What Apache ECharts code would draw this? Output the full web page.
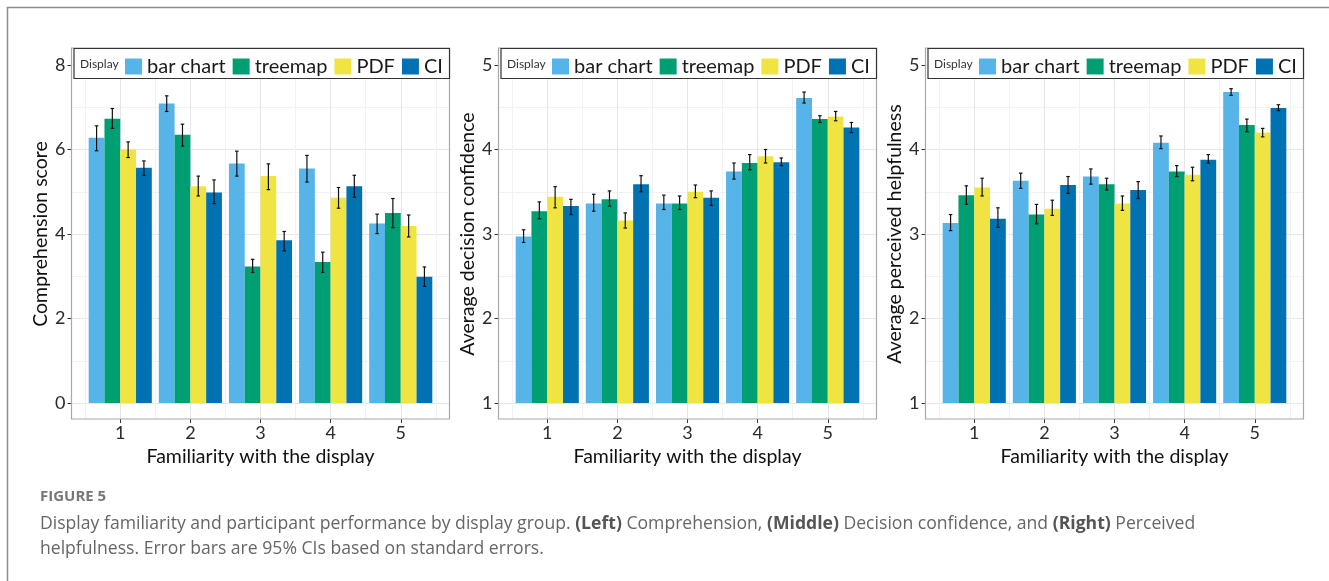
<!DOCTYPE html>
<html>
<head>
<meta charset="utf-8">
<script src="https://cdn.jsdelivr.net/npm/echarts@6/dist/echarts.min.js"></script>
<style>
  html, body { margin: 0; padding: 0; background: #fff; }
  #chart { width: 1329px; height: 581px; }
</style>
</head>
<body>
<div id="chart"></div>
<script>
// ---------------- data ----------------
const categories = [1, 2, 3, 4, 5];
const displays = ['bar chart', 'treemap', 'PDF', 'CI'];
const xTitle = 'Familiarity with the display';

const compTicks = [0, 2, 4, 6, 8];
const likertTicks = [1, 2, 3, 4, 5];

// Comprehension score (means, 95% CI [low, high])
const compBarChart = [6.28, 7.09, 5.67, 5.55, 4.25];
const compBarChartCI = [[5.97, 6.56], [6.90, 7.27], [5.37, 5.96], [5.23, 5.86], [4.01, 4.47]];
const compTreemap = [6.73, 6.35, 3.23, 3.34, 4.50];
const compTreemapCI = [[6.50, 6.97], [6.08, 6.60], [3.09, 3.40], [3.09, 3.57], [4.15, 4.84]];
const compPDF = [6.00, 5.13, 5.37, 4.86, 4.19];
const compPDFCI = [[5.81, 6.18], [4.90, 5.37], [5.05, 5.66], [4.61, 5.10], [3.93, 4.45]];
const compCI = [5.57, 4.98, 3.85, 5.13, 2.99];
const compCICI = [[5.39, 5.73], [4.72, 5.28], [3.60, 4.06], [4.87, 5.39], [2.76, 3.22]];

// Average decision confidence
const confBarChart = [2.97, 3.36, 3.36, 3.74, 4.61];
const confBarChartCI = [[2.90, 3.05], [3.27, 3.47], [3.29, 3.46], [3.65, 3.84], [4.55, 4.68]];
const confTreemap = [3.27, 3.41, 3.36, 3.84, 4.36];
const confTreemapCI = [[3.18, 3.38], [3.33, 3.51], [3.29, 3.45], [3.76, 3.94], [4.32, 4.40]];
const confPDF = [3.44, 3.16, 3.50, 3.92, 4.39];
const confPDFCI = [[3.31, 3.56], [3.07, 3.25], [3.43, 3.58], [3.84, 4.00], [4.34, 4.45]];
const confCI = [3.33, 3.59, 3.43, 3.85, 4.26];
const confCICI = [[3.23, 3.41], [3.50, 3.69], [3.34, 3.51], [3.81, 3.90], [4.20, 4.32]];

// Average perceived helpfulness
const helpBarChart = [3.13, 3.63, 3.68, 4.08, 4.68];
const helpBarChartCI = [[3.04, 3.23], [3.54, 3.72], [3.59, 3.77], [4.01, 4.16], [4.64, 4.72]];
const helpTreemap = [3.46, 3.23, 3.59, 3.74, 4.29];
const helpTreemapCI = [[3.35, 3.57], [3.12, 3.35], [3.52, 3.66], [3.68, 3.81], [4.21, 4.36]];
const helpPDF = [3.55, 3.30, 3.36, 3.70, 4.20];
const helpPDFCI = [[3.45, 3.66], [3.22, 3.40], [3.28, 3.45], [3.63, 3.79], [4.15, 4.25]];
const helpCI = [3.18, 3.58, 3.52, 3.88, 4.49];
const helpCICI = [[3.08, 3.31], [3.48, 3.68], [3.42, 3.62], [3.84, 3.94], [4.46, 4.53]];

const captionLabel = 'FIGURE 5';
const captionLine1 = 'Display familiarity and participant performance by display group. {b|(Left)} Comprehension, {b|(Middle)} Decision confidence, and {b|(Right)} Perceived';
const captionLine2 = 'helpfulness. Error bars are 95% CIs based on standard errors.';

// ---------------- layout / style ----------------
const colors = ['#56B4E9', '#009E73', '#F0E442', '#0072B2'];
const FONT = 'Lato';
const PW = 378;              // panel width
const P_TOP = 48, P_BOT = 419;
const T_TOP = 65, T_BOT = 403;
const DODGE = 0.9, BAR = DODGE / 4;
const xMin = categories[0] - DODGE / 2 - 0.245;
const xMax = categories[categories.length - 1] + DODGE / 2 + 0.245;
const S = PW / (xMax - xMin);

const halfTicks = [];
for (let i = 0; i < categories.length; i++) {
  halfTicks.push(String(categories[i] - 0.5));
  halfTicks.push(String(categories[i]));
}
halfTicks.push(String(categories[categories.length - 1] + 0.5));

const panels = [
  { left: 71.5, yTitle: 'Comprehension score', ticks: compTicks, base: 0,
    sets: [[compBarChart, compBarChartCI], [compTreemap, compTreemapCI], [compPDF, compPDFCI], [compCI, compCICI]] },
  { left: 498.5, yTitle: 'Average decision confidence', ticks: likertTicks, base: 1,
    sets: [[confBarChart, confBarChartCI], [confTreemap, confTreemapCI], [confPDF, confPDFCI], [confCI, confCICI]] },
  { left: 925.5, yTitle: 'Average perceived helpfulness', ticks: likertTicks, base: 1,
    sets: [[helpBarChart, helpBarChartCI], [helpTreemap, helpTreemapCI], [helpPDF, helpPDFCI], [helpCI, helpCICI]] }
];

function makeRender(s, base) {
  return function (params, api) {
    const c = api.value(0), v = api.value(1), lo = api.value(2), hi = api.value(3);
    const x0 = c - DODGE / 2 + s * BAR, x1 = x0 + BAR, xc = x0 + BAR / 2;
    const a = api.coord([x0, v]), b = api.coord([x1, base]);
    const t = api.coord([xc, hi]), u = api.coord([xc, lo]);
    const cl = api.coord([xc - 0.025, hi])[0], cr = api.coord([xc + 0.025, hi])[0];
    const es = { stroke: '#111', lineWidth: 1.2 };
    return {
      type: 'group',
      children: [
        { type: 'rect', shape: { x: a[0], y: a[1], width: b[0] - a[0], height: b[1] - a[1] },
          style: { fill: api.visual('color') } },
        { type: 'line', shape: { x1: t[0], y1: t[1], x2: u[0], y2: u[1] }, style: es },
        { type: 'line', shape: { x1: cl, y1: t[1], x2: cr, y2: t[1] }, style: es },
        { type: 'line', shape: { x1: cl, y1: u[1], x2: cr, y2: u[1] }, style: es }
      ]
    };
  };
}

const grid = [], xAxis = [], yAxis = [], series = [], legend = [], graphic = [];

graphic.push({ type: 'line', shape: { x1: 7, y1: 7.5, x2: 1329, y2: 7.5 }, style: { stroke: '#8c8c8c', lineWidth: 1.5 }, z: 20 });
graphic.push({ type: 'line', shape: { x1: 7.5, y1: 7, x2: 7.5, y2: 581 }, style: { stroke: '#8c8c8c', lineWidth: 1.5 }, z: 20 });

panels.forEach((p, k) => {
  const gH = 2 * k, gV = 2 * k + 1;
  const ticks = p.ticks;
  grid.push({ left: p.left, top: T_TOP, width: PW, height: T_BOT - T_TOP });
  grid.push({ left: p.left + (categories[0] - 0.5 - xMin) * S, top: P_TOP,
              width: (categories.length) * S, height: P_BOT - P_TOP });

  xAxis.push({ gridIndex: gH, type: 'value', min: xMin, max: xMax, show: false });
  yAxis.push({
    gridIndex: gH, type: 'value', min: ticks[0], max: ticks[ticks.length - 1], interval: ticks[1] - ticks[0],
    axisLine: { show: false },
    axisTick: { show: true, length: 4, lineStyle: { color: '#333', width: 1 } },
    axisLabel: { fontSize: 18, color: '#2b2b2b', margin: 6, fontFamily: FONT },
    splitLine: { show: true, lineStyle: { color: '#e6e6e6', width: 1 } },
    minorTick: { show: false, splitNumber: 2 },
    minorSplitLine: { show: true, lineStyle: { color: '#f2f2f2', width: 1 } },
    name: p.yTitle, nameLocation: 'middle', nameGap: 20,
    nameTextStyle: { fontSize: 19.5, color: '#111', fontFamily: FONT }
  });

  xAxis.push({
    gridIndex: gV, type: 'category', data: halfTicks, boundaryGap: false,
    axisLine: { show: false },
    axisTick: { show: true, length: 4, interval: (i) => i % 2 === 1, lineStyle: { color: '#333', width: 1 } },
    axisLabel: { show: true, interval: (i) => i % 2 === 1, fontSize: 18, color: '#2b2b2b', margin: 5, fontFamily: FONT },
    splitLine: { show: true, interval: 0, lineStyle: { color: ['#f2f2f2', '#e6e6e6'], width: 1 } },
    name: xTitle, nameLocation: 'middle', nameGap: 25,
    nameTextStyle: { fontSize: 19.5, color: '#111', fontFamily: FONT }
  });
  yAxis.push({ gridIndex: gV, type: 'value', min: 0, max: 1, show: false });

  p.sets.forEach((set, s) => {
    const vals = set[0], ci = set[1];
    series.push({
      type: 'custom', name: displays[s], xAxisIndex: gH, yAxisIndex: gH,
      itemStyle: { color: colors[s] },
      data: categories.map((c, i) => [c, vals[i], ci[i][0], ci[i][1]]),
      encode: { x: 0, y: 1 },
      renderItem: makeRender(s, p.base),
      z: 3, silent: true, animation: false
    });
  });

  legend.push({
    data: displays, left: p.left + 53.5, top: 56.5, padding: 0,
    itemWidth: 17, itemHeight: 16, itemGap: 7, icon: 'rect',
    textStyle: { fontSize: 20, color: '#1a1a1a', fontFamily: FONT },
    selectedMode: false, z: 13
  });

  graphic.push({ type: 'rect', shape: { x: p.left, y: P_TOP, width: PW, height: P_BOT - P_TOP },
    style: { fill: null, stroke: '#a8a8a8', lineWidth: 1.2 }, z: 10, silent: true });
  graphic.push({ type: 'rect', shape: { x: p.left + 2.5, y: P_TOP + 0.5, width: PW - 2.5, height: 30 },
    style: { fill: '#fff', stroke: '#333', lineWidth: 1.2 }, z: 11, silent: true });
  graphic.push({ type: 'text', x: p.left + 8.5, y: 64,
    style: { text: 'Display', fontSize: 12, fontFamily: FONT, fill: '#333', verticalAlign: 'middle' }, z: 12 });
});

graphic.push({ type: 'text', x: 40, y: 497,
  style: { text: captionLabel, fontSize: 15, fontWeight: 'bold', fontFamily: 'Open Sans', fill: '#777', verticalAlign: 'middle' }, z: 12 });
graphic.push({ type: 'text', x: 40, y: 524,
  style: { text: captionLine1, fontSize: 17.6, fontFamily: 'Open Sans', fill: '#666', verticalAlign: 'middle',
    rich: { b: { fontSize: 17.6, fontFamily: 'Open Sans', fontWeight: 'bold', fill: '#555' } } }, z: 12 });
graphic.push({ type: 'text', x: 40, y: 549,
  style: { text: captionLine2, fontSize: 17.6, fontFamily: 'Open Sans', fill: '#666', verticalAlign: 'middle' }, z: 12 });

const chart = echarts.init(document.getElementById('chart'), null, { renderer: 'canvas' });
chart.setOption({
  animation: false,
  backgroundColor: '#fff',
  textStyle: { fontFamily: FONT },
  grid, xAxis, yAxis, series, legend, graphic
});
</script>
</body>
</html>
